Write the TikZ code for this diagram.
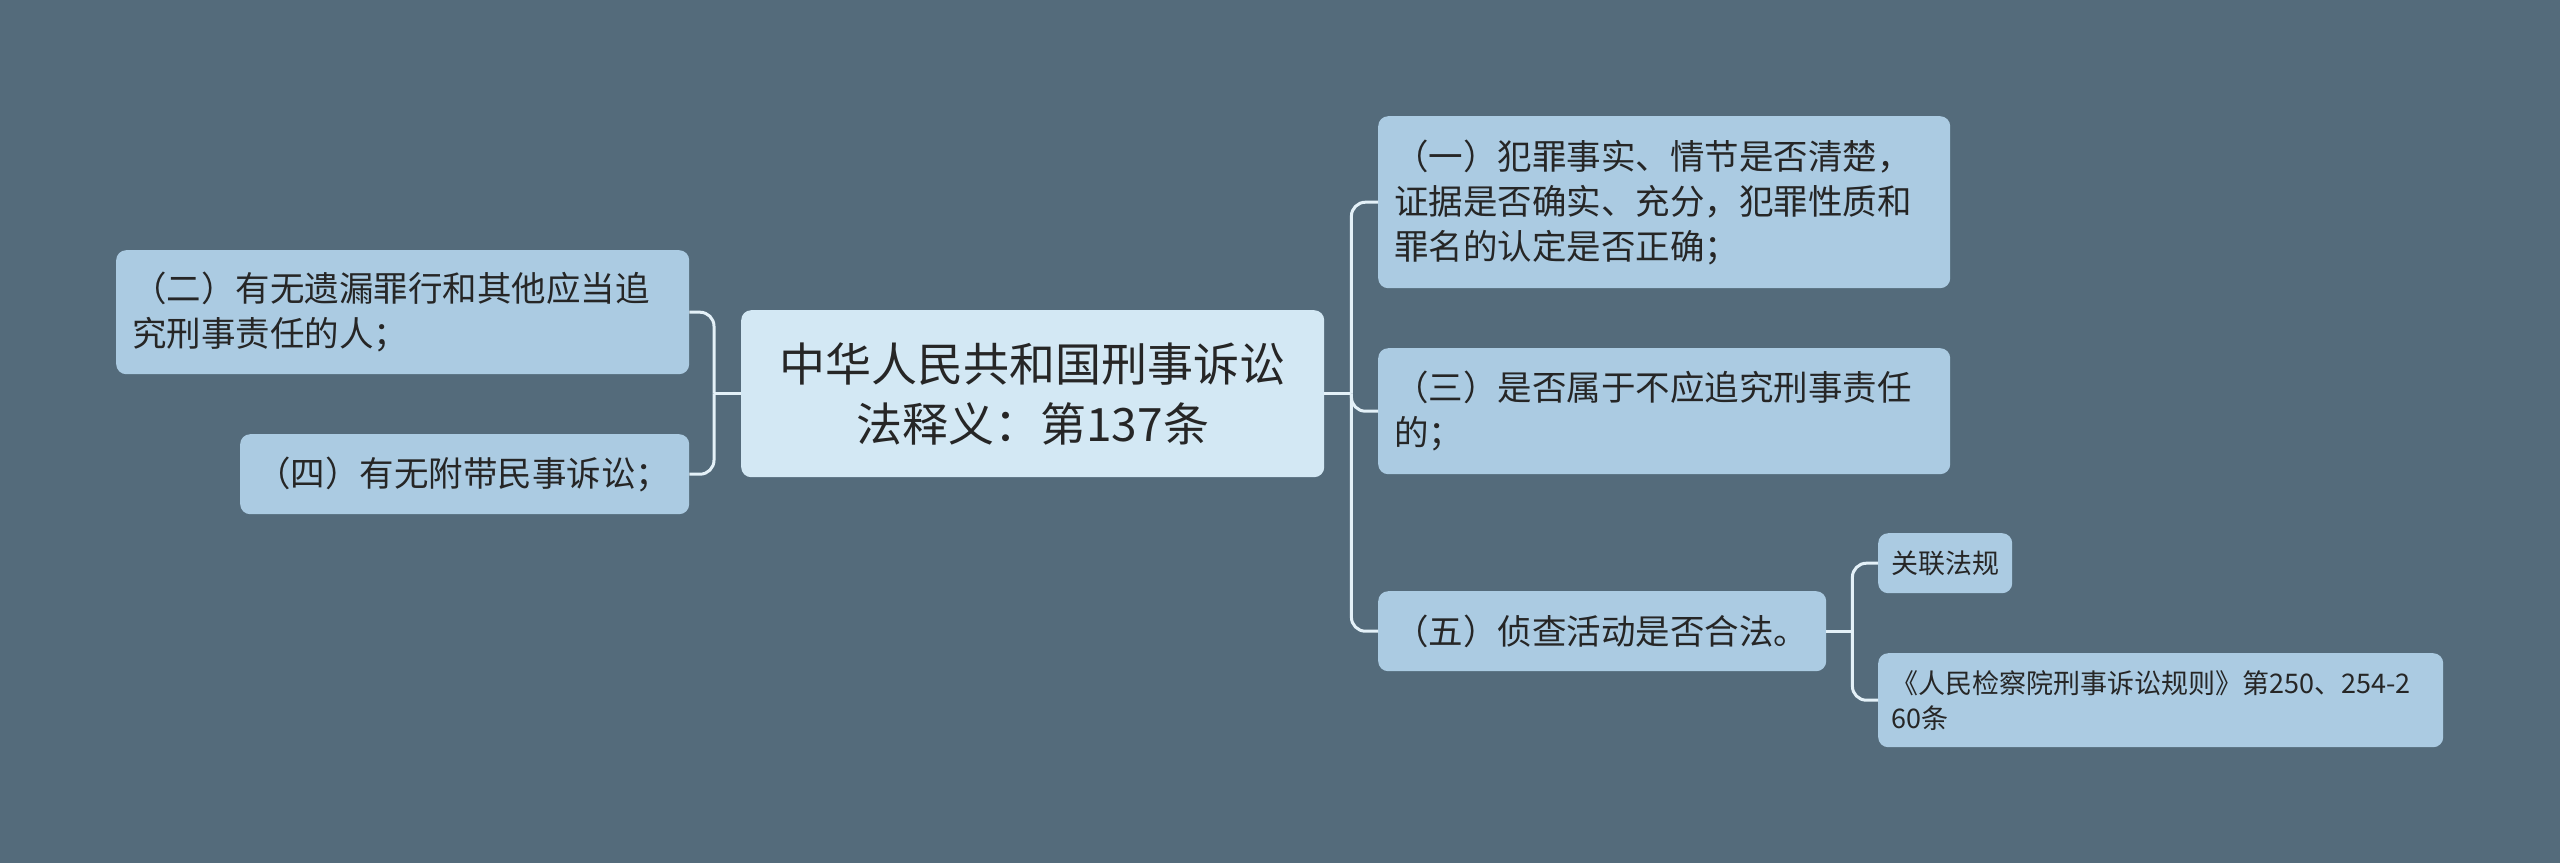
\documentclass[tikz,border=0pt]{standalone}
\usepackage{fontspec}
\setmainfont{Noto Sans CJK SC}
\definecolor{bg}{HTML}{546B7B}
\definecolor{boxfill}{HTML}{ABCBE2}
\definecolor{rootfill}{HTML}{D3E8F4}
\definecolor{linec}{HTML}{E4F1F8}
\definecolor{txt}{HTML}{262626}
\begin{document}
\begin{tikzpicture}[x=1pt,y=-1pt,
  basebox/.style={draw=none,rounded corners=10pt,anchor=north west,inner ysep=0pt,text=txt},
  rootbox/.style={basebox,fill=rootfill,align=center,inner xsep=0pt,
    font=\fontsize{46}{60}\selectfont},
  lvone/.style={basebox,fill=boxfill,align=left,inner xsep=16pt,
    font=\fontsize{34.5}{45}\selectfont},
  lvtwo/.style={basebox,fill=boxfill,align=left,inner xsep=13pt,
    font=\fontsize{27}{35}\selectfont},
  conn/.style={draw=linec,line width=3pt,rounded corners=14pt}]
\useasboundingbox (0,0) rectangle (2560,863);
\fill[bg] (0,0) rectangle (2560,863);

\node[rootbox,minimum width=583pt,minimum height=167pt] (root) at (741,310)
  {中华人民共和国刑事诉讼\\法释义：第137条};

\node[lvone,minimum width=573pt,minimum height=124pt,text width=541pt] (n2) at (116,250)
  {（二）有无遗漏罪行和其他应当追\\究刑事责任的人；};
\node[lvone,minimum width=449pt,minimum height=80pt,text width=417pt] (n4) at (240,434)
  {（四）有无附带民事诉讼；};

\node[lvone,minimum width=572pt,minimum height=172pt,text width=540pt] (n1) at (1378,116)
  {（一）犯罪事实、情节是否清楚，\\证据是否确实、充分，犯罪性质和\\罪名的认定是否正确；};
\node[lvone,minimum width=572pt,minimum height=126pt,text width=540pt] (n3) at (1378,348)
  {（三）是否属于不应追究刑事责任\\的；};
\node[lvone,minimum width=448pt,minimum height=80pt,text width=416pt] (n5) at (1378,591)
  {（五）侦查活动是否合法。};

\node[lvtwo,minimum width=134pt,minimum height=60pt,text width=108pt] (r1) at (1878,533)
  {关联法规};
\node[lvtwo,minimum width=565pt,minimum height=94pt,text width=539pt] (r2) at (1878,653)
  {《人民检察院刑事诉讼规则》第250、254-2\\60条};

% left connectors
\coordinate (lt) at ([xshift=-27pt]root.west);
\draw[conn] (root.west) -- (lt);
\draw[conn] (lt) |- (n2.east);
\draw[conn] (lt) |- (n4.east);
% right connectors
\coordinate (rt) at ([xshift=27pt]root.east);
\draw[conn] (root.east) -- (rt);
\draw[conn] (rt) |- (n1.west);
\draw[conn] (rt) |- (n3.west);
\draw[conn] (rt) |- (n5.west);
% level two connectors
\coordinate (ft) at ([xshift=26pt]n5.east);
\draw[conn] (n5.east) -- (ft);
\draw[conn] (ft) |- (r1.west);
\draw[conn] (ft) |- (r2.west);
\end{tikzpicture}
\end{document}
